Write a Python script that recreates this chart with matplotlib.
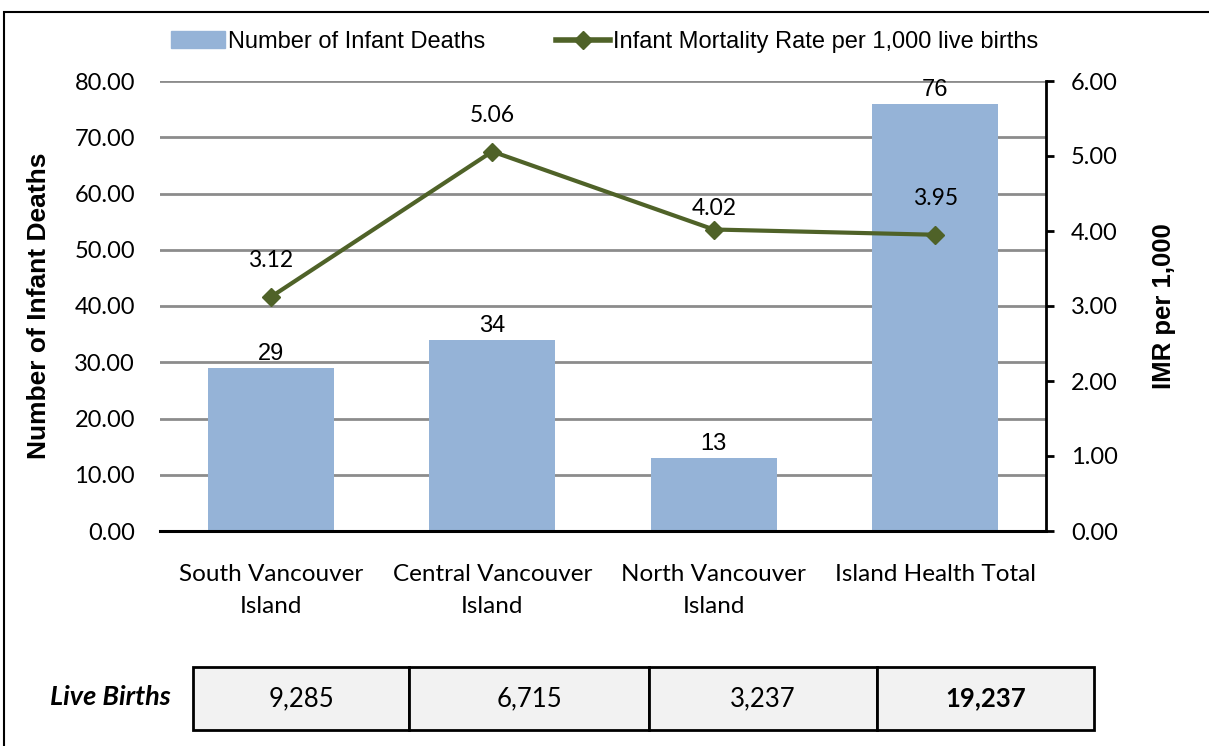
import numpy as np
import matplotlib
matplotlib.use("Agg")
import matplotlib.pyplot as plt
from matplotlib.patches import Rectangle
from matplotlib.lines import Line2D

# data
regions   = ["South Vancouver\nIsland", "Central Vancouver\nIsland",
             "North Vancouver\nIsland", "Island Health Total"]
deaths    = [29, 34, 13, 76]
imr       = [3.12, 5.06, 4.02, 3.95]
births    = ["9,285", "6,715", "3,237", "19,237"]
left_ticks  = [0, 10, 20, 30, 40, 50, 60, 70, 80]
right_ticks = [0, 1, 2, 3, 4, 5, 6]

bar_col  = "#95b3d7"
line_col = "#4f6228"
grid_col = "#8c8c8c"
calib = "Lato"
arial = "Liberation Sans"

W, H = 1209, 746
fig = plt.figure(figsize=(W/100, H/100), dpi=100)

ax = fig.add_axes([160/W, 215/H, 886/W, 450/H])
x = np.arange(len(regions))
bars = ax.bar(x, deaths, width=0.57, color=bar_col, zorder=2)
ax.set_xlim(-0.5, len(regions)-0.5)
ax.set_ylim(0, 80)
ax.set_yticks(left_ticks)
ax.set_yticklabels(["%.2f" % v for v in left_ticks], fontfamily=calib, fontsize=17)
ax.yaxis.grid(True, color=grid_col, lw=2, zorder=0)
ax.set_axisbelow(True)
ax.tick_params(axis="y", length=0, pad=18)
ax.set_xticks(x)
ax.set_xticklabels(regions, fontfamily=calib, fontsize=17.5, linespacing=1.6)
ax.tick_params(axis="x", length=0, pad=24)
for s in ["left", "top", "right"]:
    ax.spines[s].set_visible(False)
ax.spines["bottom"].set_linewidth(2.2)
ax.spines["bottom"].set_zorder(5)
ax.set_ylabel("Number of Infant Deaths", fontfamily=arial, fontweight="bold",
              fontsize=19)
ax.yaxis.set_label_coords(-0.123, 0.5)

for xi, d in zip(x, deaths):
    ax.annotate(str(d), (xi, d), xytext=(0, 2), textcoords="offset points",
                ha="center", va="bottom", fontfamily=arial, fontsize=17)

ax2 = ax.twinx()
ax2.plot(x, imr, color=line_col, lw=3, marker="D", markersize=9, zorder=4)
ax2.set_ylim(0, 6)
ax2.set_yticks(right_ticks)
ax2.set_yticklabels(["%.2f" % v for v in right_ticks], fontfamily=calib, fontsize=17)
ax2.tick_params(axis="y", direction="out", length=6, width=2, pad=12)
for s in ["left", "top", "bottom"]:
    ax2.spines[s].set_visible(False)
ax2.spines["right"].set_linewidth(2)
ax2.set_ylabel("IMR per 1,000", fontfamily=arial, fontweight="bold", fontsize=18.5)
ax2.yaxis.set_label_coords(1.12, 0.5)

label_off = [26, 26, 15, 26]
for xi, v, off in zip(x, imr, label_off):
    ax2.annotate("%.2f" % v, (xi, v), xytext=(0, off), textcoords="offset points",
                 ha="center", va="center", fontfamily=calib, fontsize=16.5)

handles = [Rectangle((0, 0), 1, 1, color=bar_col),
           Line2D([0], [0], color=line_col, lw=4, marker="D", markersize=9)]
fig.legend(handles, ["Number of Infant Deaths", "Infant Mortality Rate per 1,000 live births"],
           loc="center", bbox_to_anchor=(0.5, 0.944), ncol=2, frameon=False,
           prop={"family": arial, "size": 17}, handlelength=2.3, handletextpad=0.1,
           columnspacing=3)

# live births table
tab = fig.add_axes([193/W, 16/H, 901/W, 63/H])
tab.axis("off")
t = tab.table(cellText=[births], bbox=[0, 0, 1, 1], cellLoc="center",
              colWidths=[216, 240, 228, 217])
t.auto_set_font_size(False)
for (r, c), cell in t.get_celld().items():
    cell.set_facecolor("#f2f2f2")
    cell.set_edgecolor("black")
    cell.set_linewidth(2)
    cell.get_text().set_fontfamily(calib)
    cell.get_text().set_fontsize(18.5)
    if c == len(births) - 1:
        cell.get_text().set_fontweight("bold")
fig.text(110/W, 1 - 697/H, "Live Births", ha="center", va="center",
         fontfamily=calib, fontweight="bold", fontstyle="italic", fontsize=19.5)

# outer frame of the exhibit
fig.patches.append(Rectangle((4/W, -0.1), 1.2, (H - 12)/H + 0.1, fill=False,
                             lw=1.5, ec="black", transform=fig.transFigure))

fig.savefig("out.png", dpi=100)
